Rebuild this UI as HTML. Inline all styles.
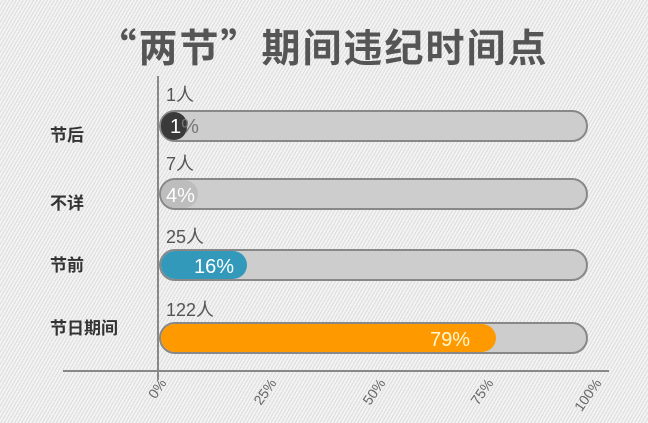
<!DOCTYPE html>
<html><head><meta charset="utf-8"><style>
body{margin:0;width:648px;height:423px;overflow:hidden;font-family:"Liberation Sans","Noto Sans CJK SC",sans-serif;
background:#f1f1f1 repeating-linear-gradient(-60deg,#f3f3f3 0 2px,#dcdcdc 2px 3px);}
</style></head><body>
<svg width="648" height="423" style="position:absolute;left:0;top:0" font-family="Liberation Sans, Noto Sans CJK SC, sans-serif">
<text x="323" y="62" text-anchor="middle" font-size="39" font-weight="bold" fill="#555" letter-spacing="2"><tspan font-family="Noto Sans CJK SC">“两节”</tspan>期间违纪时间点</text>
<line x1="158" y1="76" x2="158" y2="380" stroke="#888" stroke-width="2"/>
<line x1="63" y1="371" x2="609" y2="371" stroke="#888" stroke-width="2"/>
<g font-size="17" font-weight="bold" fill="#333">
<text x="50" y="141">节后</text><text x="50" y="209">不详</text><text x="50" y="271">节前</text><text x="50" y="334">节日期间</text></g>
<g font-size="18" fill="#555">
<text x="166" y="101">1人</text><text x="166" y="170">7人</text><text x="166" y="243">25人</text><text x="166" y="316">122人</text></g>
<g stroke="#888" stroke-width="2" fill="#cdcdcd">
<rect x="160" y="111" width="427" height="30" rx="15"/>
<rect x="160" y="179" width="427" height="30" rx="15"/>
<rect x="160" y="250" width="427" height="30" rx="15"/>
<rect x="160" y="323" width="427" height="30" rx="15"/></g>
<rect x="161" y="112" width="26" height="28" rx="13" fill="#3a3a3a"/>
<rect x="161" y="180" width="37" height="28" rx="14" fill="#bdbdbd"/>
<rect x="161" y="251" width="86" height="28" rx="14" fill="#3399bb"/>
<rect x="161" y="324" width="335" height="28" rx="14" fill="#ff9900"/>
<g font-size="20" fill="#fff">
<text x="170" y="133" fill="#fff">1<tspan fill="#777">%</tspan></text>
<text x="166" y="202">4%</text>
<text x="194" y="273">16%</text>
<text x="430" y="346" fill="#fff8d0">79%</text></g>
<g font-size="14" fill="#666" text-anchor="end">
<text transform="translate(167,383) rotate(-55)">0%</text>
<text transform="translate(277,383) rotate(-55)">25%</text>
<text transform="translate(386,383) rotate(-55)">50%</text>
<text transform="translate(494,383) rotate(-55)">75%</text>
<text transform="translate(602,383) rotate(-55)">100%</text></g>
</svg>
</body></html>
